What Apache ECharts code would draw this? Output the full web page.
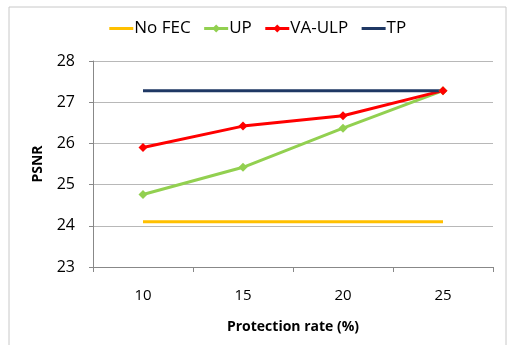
<!DOCTYPE html>
<html>
<head>
<meta charset="utf-8">
<script src="https://cdn.jsdelivr.net/npm/echarts@6/dist/echarts.min.js"></script>
<style>
html, body { margin: 0; padding: 0; background: #fff; }
#main { width: 514px; height: 345px; }
</style>
</head>
<body>
<div id="main"></div>
<script>
// data
var categories = ['10', '15', '20', '25'];
var noFec = [24.1, 24.1, 24.1, 24.1];
var up = [24.76, 25.42, 26.37, 27.28];
var vaUlp = [25.9, 26.42, 26.67, 27.28];
var tp = [27.28, 27.28, 27.28, 27.28];

var myChart = echarts.init(document.getElementById('main'));
var font = 'Open Sans';

var option = {
	animation: false,
	textStyle: { fontFamily: font },
	graphic: [{
		type: 'rect',
		shape: { x: 9, y: 7, width: 497, height: 345 },
		style: { fill: 'none', stroke: '#c8c8c8', lineWidth: 1 },
		silent: true
	}],
	legend: {
		top: 15,
		left: 'center',
		itemWidth: 24,
		itemHeight: 10,
		itemGap: 12,
		lineStyle: { width: 3 },
		textStyle: { fontSize: 17, color: '#000', fontFamily: font, padding: [0, 0, 0, -4] },
		// no markers on the flat lines
		data: [
			{ name: 'No FEC', itemStyle: { opacity: 0 } },
			'UP',
			'VA-ULP',
			{ name: 'TP', itemStyle: { opacity: 0 } }
		]
	},
	grid: { left: 93, right: 21, top: 61, bottom: 78 },
	xAxis: {
		type: 'category',
		data: categories,
		boundaryGap: true,
		name: 'Protection rate (%)',
		nameLocation: 'middle',
		nameGap: 53,
		nameTextStyle: { fontSize: 14, fontWeight: 'bold', color: '#000' },
		axisLine: { lineStyle: { color: '#888', width: 1 } },
		axisTick: { show: true, length: 5, lineStyle: { color: '#888' } },
		axisLabel: { fontSize: 15, color: '#000', margin: 21 }
	},
	yAxis: {
		type: 'value',
		min: 23,
		max: 28,
		interval: 1,
		name: 'PSNR',
		nameLocation: 'middle',
		nameGap: 48,
		nameTextStyle: { fontSize: 14, fontWeight: 'bold', color: '#000' },
		axisLine: { show: true, lineStyle: { color: '#888', width: 1 } },
		axisTick: { show: true, length: 4, lineStyle: { color: '#888' } },
		axisLabel: { fontSize: 16, color: '#000', margin: 18 },
		splitLine: { lineStyle: { color: '#b8b8b8', width: 1 } }
	},
	series: [{
		name: 'No FEC',
		type: 'line',
		data: noFec,
		symbol: 'none',
		lineStyle: { color: '#ffc000', width: 3 },
		itemStyle: { color: '#ffc000' }
	}, {
		name: 'UP',
		type: 'line',
		data: up,
		symbol: 'diamond',
		symbolSize: 9,
		lineStyle: { color: '#92d050', width: 3 },
		itemStyle: { color: '#92d050' }
	}, {
		name: 'VA-ULP',
		type: 'line',
		data: vaUlp,
		symbol: 'diamond',
		symbolSize: 9,
		lineStyle: { color: '#ff0000', width: 3 },
		itemStyle: { color: '#ff0000' }
	}, {
		name: 'TP',
		type: 'line',
		data: tp,
		symbol: 'none',
		lineStyle: { color: '#1f3864', width: 3 },
		itemStyle: { color: '#1f3864' }
	}]
};

myChart.setOption(option);
</script>
</body>
</html>
